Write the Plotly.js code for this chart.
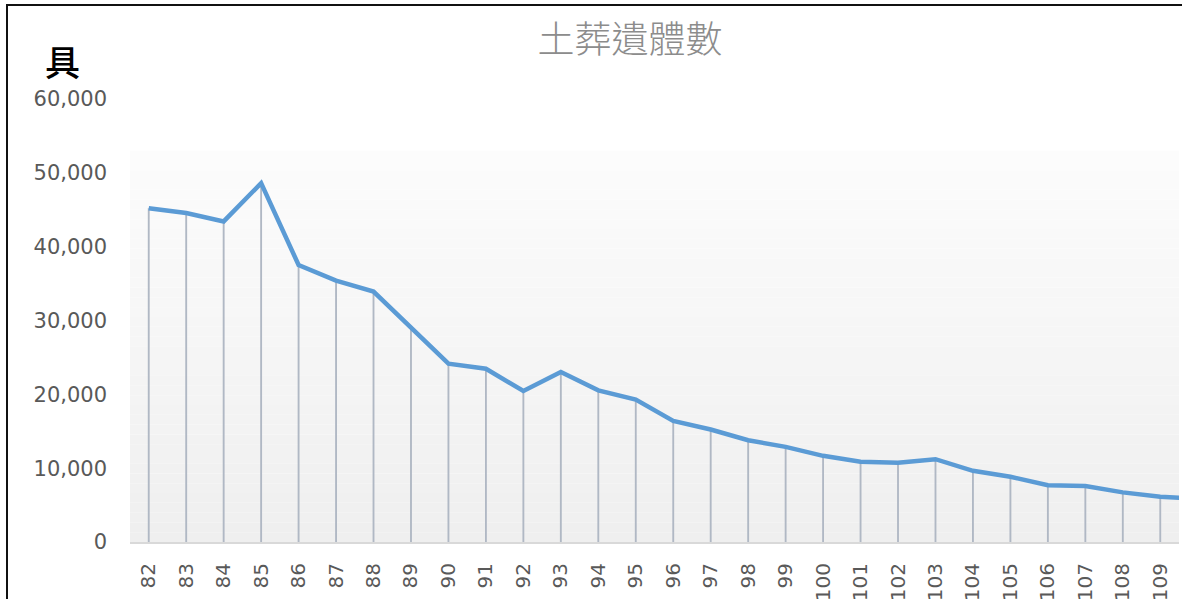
<!DOCTYPE html>
<html>
<head>
<meta charset="utf-8">
<script src="https://cdn.plot.ly/plotly-3.0.1.min.js"></script>
<style>
html,body{margin:0;padding:0;overflow:hidden;background:#fff;}
#wrap{position:relative;width:1182px;height:599px;overflow:hidden;}
#chart{position:absolute;left:0;top:0;width:1182px;height:599px;}
#frame{position:absolute;left:6px;top:4px;width:1300px;height:700px;border-left:2px solid #111;border-top:2px solid #111;pointer-events:none;}
</style>
</head>
<body>
<div id="wrap">
<div id="chart"></div>
<div id="frame"></div>
</div>
<script>
// 民國年
const years = ['82','83','84','85','86','87','88','89','90','91','92','93','94','95','96','97','98','99','100','101','102','103','104','105','106','107','108','109','110'];
// 土葬遺體數 (具)
const burials = [45200,44550,43420,48600,37520,35400,33920,29100,24150,23470,20450,23020,20540,19280,16400,15230,13780,12880,11670,10860,10720,11220,9640,8830,7700,7570,6720,6120,5850];
const chartTitle = '土葬遺體數';
const unitLabel = '具';

const yTop = 60000;
const bandTop = 53000;
const nBands = 40;
const shapes = [];
for (let i = 0; i < nBands; i++) {
  const t = i / (nBands - 1);
  const c = Math.round(239 + (252 - 239) * t);
  shapes.push({
    type: 'rect', layer: 'below', xref: 'paper', yref: 'y',
    x0: 0, x1: 1,
    y0: bandTop * i / nBands, y1: bandTop * (i + 1) / nBands,
    fillcolor: `rgb(${c},${c},${c})`, line: {width: 0}
  });
}

const drops = {
  type: 'bar', x: years, y: burials, width: 0.05,
  marker: {color: '#b0b8c4', line: {width: 0}},
  hoverinfo: 'skip', showlegend: false
};
const line = {
  type: 'scatter', mode: 'lines', x: years, y: burials,
  line: {color: '#5b9bd5', width: 4.5},
  showlegend: false
};

const tickFont = {family: '"DejaVu Sans", sans-serif', size: 20, color: '#595959'};

const layout = {
  width: 1182, height: 599, autosize: false,
  margin: {l: 130, r: 3, t: 99, b: 57, pad: 0},
  paper_bgcolor: '#ffffff', plot_bgcolor: '#ffffff',
  showlegend: false,
  title: {
    text: chartTitle, xref: 'container', yref: 'container',
    x: 630 / 1182, xanchor: 'center', y: 1 - 40 / 599, yanchor: 'middle',
    font: {family: '"Noto Sans CJK TC", "Noto Sans", sans-serif', size: 37, color: '#8c8c8c', weight: 300}
  },
  xaxis: {
    type: 'category', range: [-0.5, 27.5], categoryorder: 'array', categoryarray: years,
    showgrid: false, zeroline: false, showline: true, linecolor: '#d9d9d9', linewidth: 2,
    ticks: '', tickangle: -90, ticklabelstandoff: 11,
    tickfont: tickFont,
    fixedrange: true
  },
  yaxis: {
    range: [0, yTop], dtick: 10000, tickformat: ',', showgrid: false, zeroline: false,
    showline: false, ticks: '', ticklabelstandoff: 22,
    tickfont: {family: '"DejaVu Sans", sans-serif', size: 21, color: '#595959'},
    fixedrange: true
  },
  shapes: shapes,
  annotations: [{
    text: unitLabel, xref: 'paper', yref: 'paper',
    x: (62 - 130) / 1049, y: (542 - 61) / 443, xanchor: 'center', yanchor: 'middle',
    showarrow: false,
    font: {family: '"Noto Sans CJK TC", sans-serif', size: 35, color: '#000000', weight: 500}
  }]
};

Plotly.newPlot('chart', [drops, line], layout, {displayModeBar: false, staticPlot: true});
</script>
</body>
</html>
